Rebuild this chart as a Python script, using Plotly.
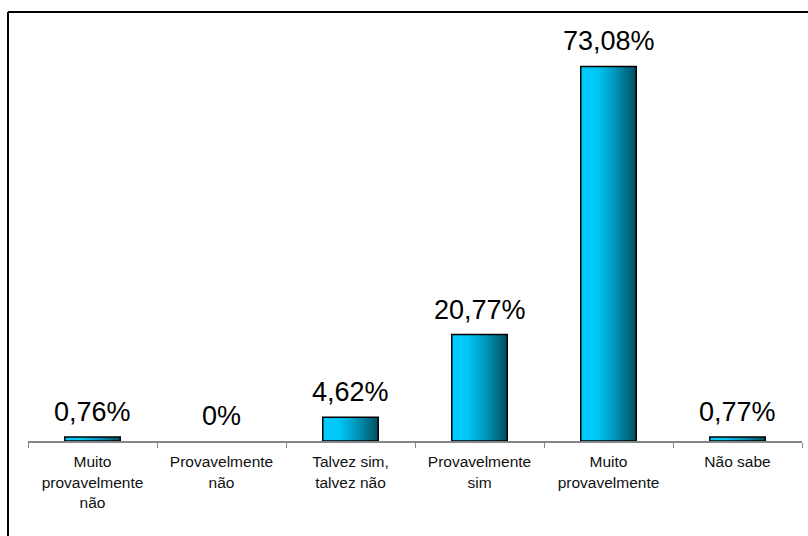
import plotly.graph_objects as go

# Survey answers and their share of responses (%)
categories = [
    "Muito<br>provavelmente<br>não",
    "Provavelmente<br>não",
    "Talvez sim,<br>talvez não",
    "Provavelmente<br>sim",
    "Muito<br>provavelmente",
    "Não sabe",
]
values = [0.76, 0.0, 4.62, 20.77, 73.08, 0.77]

BAR_WIDTH = 0.43
FONT = "Arial, Liberation Sans, sans-serif"
GRADIENT = [
    [0.0, "#00CCFF"],
    [0.30, "#00C6F6"],
    [0.60, "#0098BC"],
    [1.0, "#004E62"],
]


def pct_label(v):
    if v == 0:
        return "0%"
    return f"{v:.2f}".replace(".", ",") + "%"


fig = go.Figure()

# Gradient-filled bars drawn as filled rectangles on a numeric helper axis
for i, v in enumerate(values):
    if v <= 0:
        continue
    x0, x1 = i - BAR_WIDTH / 2, i + BAR_WIDTH / 2
    fig.add_trace(go.Scatter(
        x=[x0, x1, x1, x0, x0],
        y=[0, 0, v, v, 0],
        mode="lines",
        fill="toself",
        fillgradient=dict(type="horizontal", colorscale=GRADIENT),
        line=dict(color="black", width=1.5),
        hoverinfo="skip",
        showlegend=False,
        xaxis="x",
        yaxis="y",
    ))

# Category bar trace (transparent) that carries the categorical axis
fig.add_trace(go.Bar(
    x=categories,
    y=values,
    width=BAR_WIDTH,
    marker=dict(color="rgba(0,0,0,0)", line=dict(width=0)),
    showlegend=False,
    hoverinfo="skip",
    xaxis="x2",
    yaxis="y",
))

# Percentage labels above each bar
for c, v in zip(categories, values):
    fig.add_annotation(
        x=c, y=v, xref="x2", yref="y",
        text=pct_label(v),
        showarrow=False,
        yanchor="bottom",
        yshift=8,
        font=dict(family=FONT, size=27, color="black"),
    )

# Frame lines along the top and left of the chart area
left_px, top_px = 8, 12
plot_l, plot_w = 28, 774
plot_t, plot_h = 31, 410
fx = (left_px - plot_l) / plot_w
fy = (plot_t + plot_h - top_px) / plot_h
fig.add_shape(type="line", xref="paper", yref="paper",
              x0=fx, x1=1.2, y0=fy, y1=fy,
              line=dict(color="black", width=2))
fig.add_shape(type="line", xref="paper", yref="paper",
              x0=fx, x1=fx, y0=fy, y1=-0.5,
              line=dict(color="black", width=2))

fig.update_layout(
    width=808,
    height=536,
    margin=dict(l=plot_l, r=808 - plot_l - plot_w, t=plot_t, b=536 - plot_t - plot_h, pad=0),
    paper_bgcolor="white",
    plot_bgcolor="white",
    font=dict(family=FONT, color="black"),
    xaxis=dict(range=[-0.5, 5.5], visible=False, fixedrange=True),
    xaxis2=dict(
        type="category",
        overlaying="x",
        range=[-0.5, 5.5],
        showline=True,
        linecolor="#858585",
        linewidth=1.5,
        ticks="outside",
        tickson="boundaries",
        ticklen=5,
        tickwidth=1.2,
        tickcolor="#858585",
        ticklabelstandoff=6,
        showgrid=False,
        tickfont=dict(family=FONT, size=15.5, color="#111111"),
        side="bottom",
        anchor="y",
    ),
    yaxis=dict(range=[0, 80], visible=False, showgrid=False, zeroline=False),
)

fig.write_html("out.html")
